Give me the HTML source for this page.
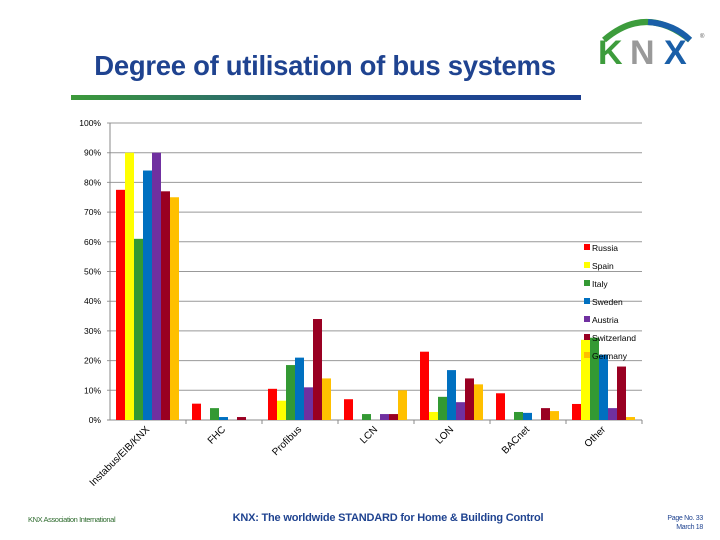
<!DOCTYPE html>
<html><head><meta charset="utf-8"><style>
body{margin:0;background:#fff;}
#root{position:relative;width:720px;height:540px;overflow:hidden;font-family:"Liberation Sans",sans-serif;}
</style></head><body>
<div id="root">
<div style="position:absolute;left:60px;top:50px;width:530px;text-align:center;font-size:27.5px;font-weight:bold;color:#1f4390;letter-spacing:-0.3px">Degree of utilisation of bus systems</div>
<div style="position:absolute;left:71px;top:95px;width:510px;height:5px;background:linear-gradient(90deg,#3c9a3a,#1f4a92 60%,#1c3f8f)"></div>
<svg style="position:absolute;left:594px;top:12px" width="116" height="58">
<path d="M10 28 Q52 -8 96 28" fill="none" stroke="#3d9c3c" stroke-width="6"/>
<path d="M54 10 Q80 12 96 28" fill="none" stroke="#1a5fa8" stroke-width="6"/>
<text x="4" y="52" font-family="Liberation Sans" font-weight="bold" font-size="34" fill="#3d9c3c">K</text>
<text x="36" y="52" font-family="Liberation Sans" font-weight="bold" font-size="34" fill="#999">N</text>
<text x="70" y="52" font-family="Liberation Sans" font-weight="bold" font-size="34" fill="#1a5fa8">X</text>
<text x="106" y="26" font-family="Liberation Sans" font-size="6" fill="#555">®</text>
</svg>
<svg id="chart" style="position:absolute;left:0;top:0" width="720" height="540"></svg>
<div style="position:absolute;left:28px;top:515px;font-size:7.5px;color:#2e6b2e;letter-spacing:-0.4px">KNX Association International</div>
<div style="position:absolute;left:200px;top:512px;width:376px;text-align:center;font-size:11px;font-weight:bold;color:#1f4390;letter-spacing:-0.2px">KNX: The worldwide STANDARD for Home &amp; Building Control</div>
<div style="position:absolute;right:17px;top:514px;font-size:7px;color:#1f4390;text-align:right;line-height:9px;letter-spacing:-0.3px">Page No. 33<br>March 18</div>
</div>
<script>
const categories=["Instabus/EIB/KNX","FHC","Profibus","LCN","LON","BACnet","Other"];
const seriesNames=["Russia","Spain","Italy","Sweden","Austria","Switzerland","Germany"];
const seriesColors=["#ff0000","#ffff00","#339933","#0070c0","#7030a0","#990022","#ffc000"];
const russia=[77.5,5.5,10.5,7,23,9,5.4];
const spain=[90,0,6.5,0,2.7,0,27];
const italy=[61,4,18.5,2,7.8,2.7,27.7];
const sweden=[84,1,21,0,16.8,2.4,22];
const austria=[90,0,11,2,6,0,4];
const switzerland=[77,1,34,2,14,4,18];
const germany=[75,0,14,10,12,3,1];
const yTicks=[0,10,20,30,40,50,60,70,80,90,100];
const series=[russia,spain,italy,sweden,austria,switzerland,germany];
const NS="http://www.w3.org/2000/svg";
const svg=document.getElementById('chart');
const x0=110,x1=642,yZero=420,yTop=123;
const yS=v=>yZero-(v/100)*(yZero-yTop);
const gw=(x1-x0)/categories.length;
const bw=9,off=6;
function mk(t,a){const e=document.createElementNS(NS,t);for(const k in a)e.setAttribute(k,a[k]);svg.appendChild(e);return e;}
yTicks.forEach(t=>{
 const y=yS(t);
 const l=mk('line',{x1:x0-3,x2:x1,y1:y,y2:y,stroke:t===0?'#888':'#999','stroke-width':1});
 
 
 const tx=mk('text',{x:x0-9,y:y+3,'text-anchor':'end','font-size':'8.5','font-family':'Liberation Sans',fill:'#000'});
 tx.textContent=t+'%';
 
 
});
const ax=mk('line',{x1:x0,x2:x0,y1:yTop,y2:yZero,stroke:'#888'});


categories.forEach((c,i)=>{
 const gx=x0+i*gw;
 const tk=mk('line',{x1:gx+gw,x2:gx+gw,y1:yZero,y2:yZero+4,stroke:'#888'});
 
 
 series.forEach((s,j)=>{
  const v=s[i]; if(v<=0) return;
  const r=mk('rect',{x:gx+off+j*bw,y:yS(v),width:bw,height:yZero-yS(v),fill:seriesColors[j]});
  
  
 });
 const cx=gx+gw/2+2,cy=yZero+10;
 const t=mk('text',{x:cx,y:cy,'text-anchor':'end','font-size':'10','font-family':'Liberation Sans',transform:`rotate(-45 ${cx} ${cy})`,fill:'#000'});
 t.textContent=c;
 
 
});
seriesNames.forEach((n,j)=>{
 const y=250+j*18;
 const r=mk('rect',{x:584,y:y-6,width:6,height:6,fill:seriesColors[j]});
 
 
 const t=mk('text',{x:592,y:y+1,'font-size':'8.5','font-family':'Liberation Sans',fill:'#000'});
 t.textContent=n;
 
 
});
</script>
</body></html>
